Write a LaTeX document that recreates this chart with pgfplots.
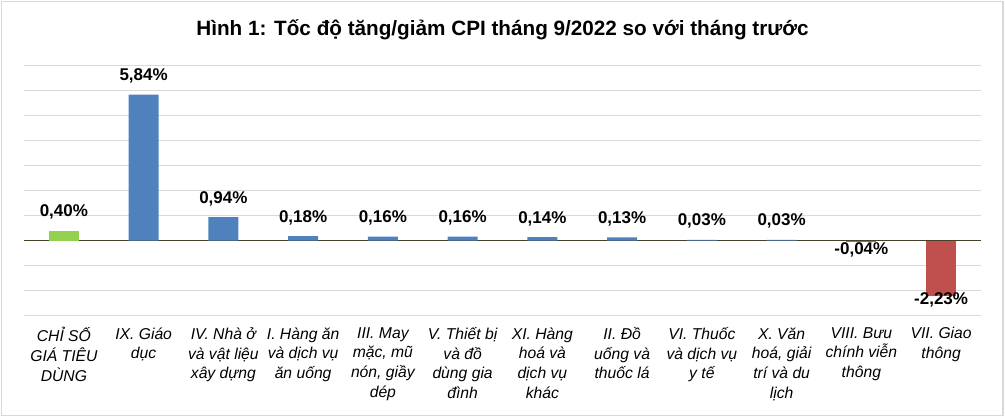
\documentclass[border=0pt]{standalone}
\usepackage{pgfplots}
\pgfplotsset{compat=1.18}
\usepackage{fontspec}
\setmainfont{Liberation Sans}

\definecolor{cpigreen}{RGB}{146,208,80}
\definecolor{cpiblue}{RGB}{79,129,189}
\definecolor{cpired}{RGB}{192,80,77}
\definecolor{gridgray}{RGB}{217,217,217}
\definecolor{zeroline}{RGB}{70,64,42}

\begin{document}
\begin{tikzpicture}
\useasboundingbox (0,0) rectangle (1005pt,417pt);
\draw[gridgray, line width=1.5pt] (1.5pt,1.5pt) rectangle (1003pt,415.5pt);
\node[anchor=base, font=\bfseries\fontsize{20.7}{24}\selectfont] at (502.5pt,381pt)
  {Hình 1: Tốc độ tăng/giảm CPI tháng 9/2022 so với tháng trước};
\begin{axis}[
    at={(24pt,101.3pt)}, anchor=south west,
    scale only axis, width=957pt, height=250pt,
    ybar, bar width=30pt, bar shift=0pt,
    xmin=-0.5, xmax=11.5, ymin=-3, ymax=7,
    axis line style={draw=none},
    major tick length=0pt,
    ytick={-3,-2,-1,1,2,3,4,5,6,7}, yticklabels={},
    ymajorgrids, major grid style={gridgray, line width=1.5pt},
    extra y ticks={0}, extra y tick labels={},
    extra y tick style={major grid style={zeroline, line width=1.6pt}},
    xtick={0,...,11},
    xticklabels={
      {CHỈ SỐ\\GIÁ TIÊU\\DÙNG},
      {IX. Giáo\\dục},
      {IV. Nhà ở\\và vật liệu\\xây dựng},
      {I. Hàng ăn\\và dịch vụ\\ăn uống},
      {III. May\\mặc, mũ\\nón, giầy\\dép},
      {V. Thiết bị\\và đồ\\dùng gia\\đình},
      {XI. Hàng\\hoá và\\dịch vụ\\khác},
      {II. Đồ\\uống và\\thuốc lá},
      {VI. Thuốc\\và dịch vụ\\y tế},
      {X. Văn\\hoá, giải\\trí và du\\lịch},
      {VIII. Bưu\\chính viễn\\thông},
      {VII. Giao\\thông}},
    xticklabel style={anchor=north, inner sep=0pt, yshift=-11.6pt, align=center,
      font=\itshape\fontsize{15.7}{19.7}\selectfont},
    point meta=explicit symbolic,
    nodes near coords,
    every node near coord/.append style={anchor=base, yshift=14pt,
      font=\bfseries\fontsize{17}{17}\selectfont, text=black},
  ]
  % tổng chỉ số
  \addplot[draw=none, fill=cpigreen] coordinates {(0,0.40) [0,40\%]};
  % các nhóm hàng tăng
  \addplot[draw=none, fill=cpiblue] coordinates {
    (1,5.84) [5,84\%]
    (2,0.94) [0,94\%]
    (3,0.18) [0,18\%]
    (4,0.16) [0,16\%]
    (5,0.16) [0,16\%]
    (6,0.14) [0,14\%]
    (7,0.13) [0,13\%]
    (8,0.03) [0,03\%]
    (9,0.03) [0,03\%]
  };
  % nhóm giảm
  \addplot[draw=none, fill=cpiblue,
    every node near coord/.append style={yshift=-26.6pt}]
    coordinates {(10,-0.04) [-0,04\%]};
  \addplot[draw=none, fill=cpired,
    every node near coord/.append style={yshift=-21.6pt}]
    coordinates {(11,-2.23) [-2,23\%]};
\end{axis}
\end{tikzpicture}
\end{document}
